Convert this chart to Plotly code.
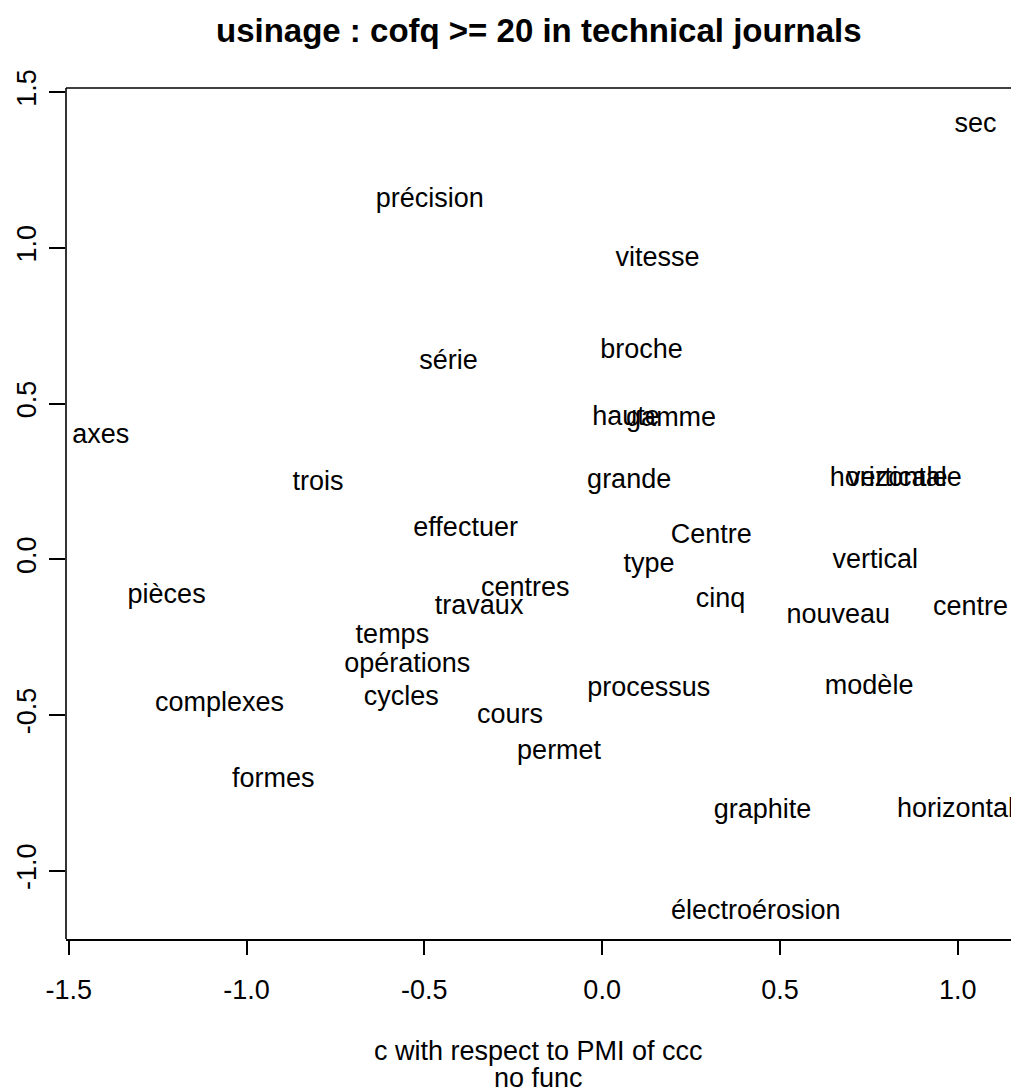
import plotly.graph_objects as go

# Word coordinates on the two PMI dimensions
words = [
    "sec", "précision", "vitesse", "broche", "série", "haute", "gamme",
    "axes", "trois", "grande", "horizontale", "verticale", "effectuer",
    "Centre", "type", "vertical", "pièces", "centres", "travaux", "cinq",
    "nouveau", "centre", "temps", "opérations", "cycles", "processus",
    "modèle", "complexes", "cours", "permet", "formes", "graphite",
    "horizontal", "électroérosion",
]
x_vals = [
    1.050, -0.485, 0.156, 0.111, -0.432, 0.067, 0.194,
    -1.410, -0.799, 0.076, 0.826, 0.830, -0.384,
    0.307, 0.132, 0.768, -1.225, -0.216, -0.346, 0.333,
    0.664, 1.036, -0.590, -0.548, -0.565, 0.131,
    0.751, -1.076, -0.259, -0.121, -0.925, 0.451,
    0.994, 0.432,
]
y_vals = [
    1.392, 1.153, 0.963, 0.668, 0.633, 0.453, 0.450,
    0.395, 0.244, 0.251, 0.257, 0.257, 0.097,
    0.074, -0.019, -0.006, -0.118, -0.096, -0.154, -0.131,
    -0.183, -0.157, -0.248, -0.340, -0.446, -0.417,
    -0.410, -0.465, -0.504, -0.619, -0.709, -0.808,
    -0.805, -1.132,
]

x_tick_vals = [-1.5, -1.0, -0.5, 0.0, 0.5, 1.0]
x_tick_text = ["-1.5", "-1.0", "-0.5", "0.0", "0.5", "1.0"]
y_tick_vals = [-1.0, -0.5, 0.0, 0.5, 1.0, 1.5]
y_tick_text = ["-1.0", "-0.5", "0.0", "0.5", "1.0", "1.5"]

title_text = "usinage : cofq >= 20 in technical journals"
xlab_line1 = "c with respect to PMI of ccc"
xlab_line2 = "no func"

# Plot box limits (the box is open on the right, cut by the page edge)
x_lim = [-1.508, 1.150]
y_lim = [-1.219, 1.513]
y_top_pad = 1.529  # a little headroom above the box top

FONT = "Liberation Sans, Arial, sans-serif"
W, H = 1011, 1092
ML, MR, MT, MB = 66, 0, 83, 153

fig = go.Figure(
    go.Scatter(
        x=x_vals, y=y_vals, text=words, mode="text",
        textposition="middle center", cliponaxis=False,
        textfont=dict(family=FONT, size=27, color="black"),
        hoverinfo="skip", showlegend=False,
    )
)

axis_common = dict(
    showgrid=False, zeroline=False, linecolor="black",
    linewidth=1.6, ticks="outside", tickcolor="black", tickwidth=1.6,
    tickfont=dict(family=FONT, size=27, color="black"),
    tickmode="array", fixedrange=True,
)

fig.update_xaxes(range=x_lim, ticklen=14, showline=True,
                 tickvals=x_tick_vals, ticktext=x_tick_text,
                 ticklabelstandoff=12, **axis_common)
fig.update_yaxes(range=[y_lim[0], y_top_pad], ticklen=16, tickangle=-90,
                 tickvals=y_tick_vals, ticktext=y_tick_text,
                 showline=False, ticklabelstandoff=2, **axis_common)

# left and top sides of the box
box_line = dict(color="black", width=1.6)
fig.add_shape(type="line", xref="paper", yref="y", x0=0, x1=0,
              y0=y_lim[0], y1=y_lim[1], line=box_line)
fig.add_shape(type="line", xref="paper", yref="y", x0=0, x1=1.01,
              y0=y_lim[1], y1=y_lim[1], line=box_line)

plot_h = H - MT - MB


def paper_y(py):
    return 1 - (py - MT) / plot_h


fig.add_annotation(text=f"<b>{title_text}</b>", xref="paper", yref="paper",
                   x=0.5, y=paper_y(31), xanchor="center", yanchor="middle",
                   showarrow=False,
                   font=dict(family=FONT, size=33, color="black"))
fig.add_annotation(text=xlab_line1, xref="paper", yref="paper",
                   x=0.5, y=paper_y(1051), xanchor="center", yanchor="middle",
                   showarrow=False, font=dict(family=FONT, size=27, color="black"))
fig.add_annotation(text=xlab_line2, xref="paper", yref="paper",
                   x=0.5, y=paper_y(1078), xanchor="center", yanchor="middle",
                   showarrow=False, font=dict(family=FONT, size=27, color="black"))

fig.update_layout(
    width=W, height=H,
    margin=dict(l=ML, r=MR, t=MT, b=MB, pad=0),
    paper_bgcolor="white", plot_bgcolor="white",
    showlegend=False,
)

fig.write_html("out.html")
